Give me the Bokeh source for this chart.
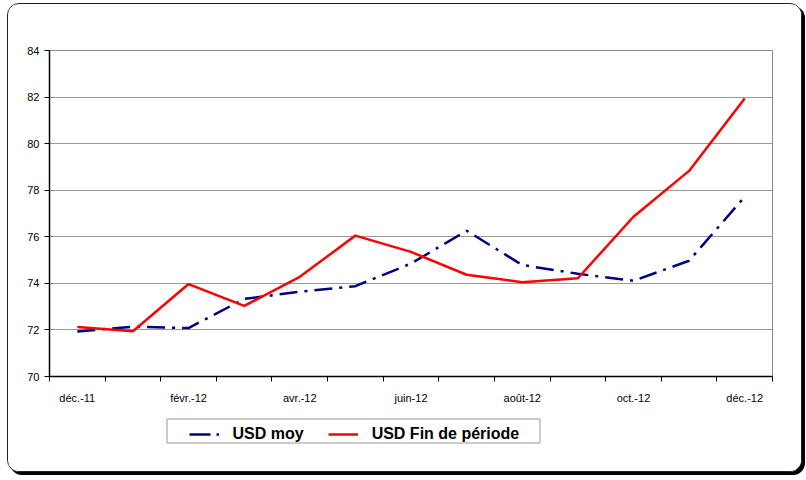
from bokeh.plotting import figure
from bokeh.models import FixedTicker, Legend, LegendItem, Range1d
from bokeh.layouts import column
from bokeh.embed import file_html
from bokeh.resources import INLINE

months = ["déc.-11", "janv.-12", "févr.-12", "mars-12", "avr.-12", "mai-12", "juin-12",
          "juil.-12", "août-12", "sept.-12", "oct.-12", "nov.-12", "déc.-12"]
usd_moy = [71.93, 72.14, 72.08, 73.33, 73.64, 73.88, 74.85, 76.26, 74.79, 74.41, 74.11, 74.97, 77.72]
usd_fin = [72.13, 71.94, 73.97, 73.03, 74.28, 76.05, 75.35, 74.37, 74.05, 74.22, 76.86, 78.83, 81.94]
y_ticks = [70, 72, 74, 76, 78, 80, 82, 84]
series_names = ["USD moy", "USD Fin de période"]

xs = [i + 0.5 for i in range(len(months))]
label_pos = xs[::2]

FONT = "Liberation Sans"
BLUE, RED = "#000080", "#FF0000"
DASH = "18 7 3 7"

FW, FH = 723, 326
BL, BR = 41, 29
p = figure(frame_width=FW, frame_height=FH, output_backend="svg", toolbar_location=None,
           x_range=Range1d(0, len(months)), y_range=Range1d(70, 84),
           min_border_left=BL, min_border_right=BR, min_border_top=46, min_border_bottom=30)
p.background_fill_color = "white"
p.border_fill_color = "white"
p.outline_line_color = "#888888"
p.outline_line_width = 1

# x axis
p.xaxis.ticker = FixedTicker(ticks=label_pos, minor_ticks=list(range(len(months) + 1)))
p.xaxis.major_label_overrides = {x: months[i * 2] for i, x in enumerate(label_pos)}
p.xaxis.major_tick_out = 0
p.xaxis.major_tick_in = 0
p.xaxis.minor_tick_out = 5
p.xaxis.minor_tick_in = 0
p.xaxis.minor_tick_line_color = "black"
p.xaxis.axis_line_color = "black"
p.xaxis.axis_line_width = 1.5
p.xaxis.major_label_standoff = 10
p.xgrid.grid_line_color = None

# y axis
p.yaxis.ticker = FixedTicker(ticks=y_ticks)
p.yaxis.major_tick_out = 5
p.yaxis.major_tick_in = 0
p.yaxis.minor_tick_line_color = None
p.yaxis.axis_line_color = "black"
p.yaxis.axis_line_width = 1.5
p.yaxis.major_tick_line_color = "black"
p.yaxis.major_label_standoff = 5
p.ygrid.grid_line_color = "#999999"
p.ygrid.grid_line_width = 1

for ax in (p.xaxis, p.yaxis):
    ax.major_label_text_font = FONT
    ax.major_label_text_font_size = "11px"
    ax.major_label_text_color = "black"

p.line(xs, usd_moy, line_color=BLUE, line_width=2.5, line_dash=DASH)
p.line(xs, usd_fin, line_color=RED, line_width=2.5)

# legend strip below the chart (frame aligned with the chart frame, 1 unit = 1 px)
H2 = 65
p2 = figure(frame_width=FW, frame_height=H2, output_backend="svg", toolbar_location=None,
            x_range=Range1d(0, FW), y_range=Range1d(0, H2),
            x_axis_location=None, y_axis_location=None,
            min_border_left=BL, min_border_right=BR, min_border_top=0, min_border_bottom=0)
p2.grid.visible = False
p2.outline_line_color = None
p2.background_fill_color = "white"
p2.border_fill_color = "white"
p2.quad(left=[117.5], right=[490.5], bottom=[28.5], top=[52.5],
        fill_color="white", line_color="#999999", line_width=1)
# legend proxies: same series, outside this strip's visible range
g1 = p2.line(xs, usd_moy, line_color=BLUE, line_width=2.5, line_dash="21 6 3 6")
g2 = p2.line(xs, usd_fin, line_color=RED, line_width=2.5)
legend = Legend(items=[LegendItem(label=series_names[0], renderers=[g1]),
                       LegendItem(label=series_names[1], renderers=[g2])],
                orientation="horizontal", location=(139.5, 28.5),
                padding=4, spacing=24, label_standoff=14,
                glyph_width=30, glyph_height=16, label_height=16,
                label_text_font=FONT, label_text_font_size="16px",
                label_text_font_style="bold", label_text_color="black",
                border_line_color=None, background_fill_alpha=0, margin=0)
p2.add_layout(legend, "center")

layout = column(p, p2, spacing=0)
layout.styles = {"border": "1.5px solid #222", "border-radius": "12px",
                 "box-shadow": "3px 3px 0 0 #000", "margin": "3px 0 0 7px",
                 "overflow": "hidden", "background": "white"}

open("out.html", "w").write(file_html(layout, INLINE))
